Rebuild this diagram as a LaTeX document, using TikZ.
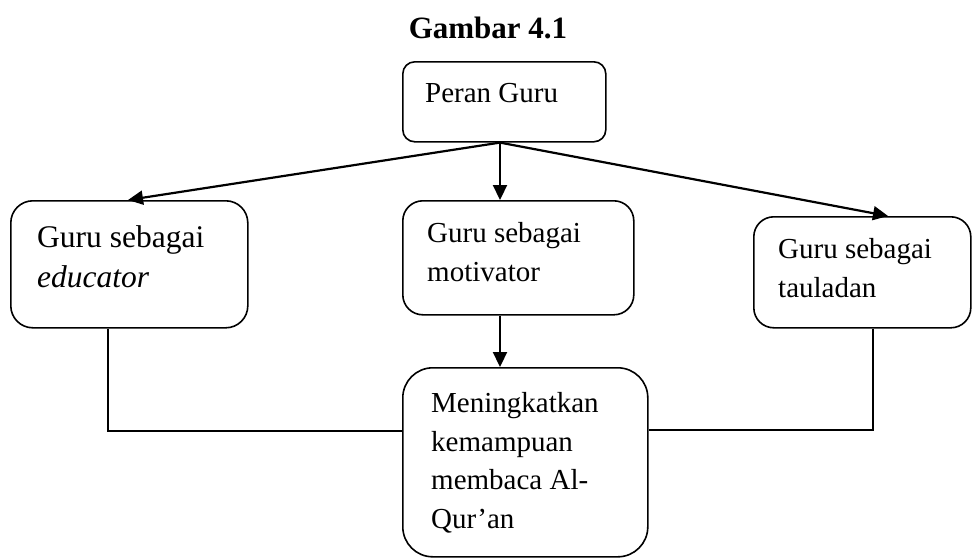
\documentclass[tikz,border=0pt]{standalone}
\usepackage{fontspec}
\setmainfont{Liberation Serif}
\usetikzlibrary{arrows.meta}
\tikzset{
  box/.style={draw, line width=1.6pt, rectangle, inner sep=0pt, anchor=north west},
  txt/.style={inner sep=0pt, anchor=base west, align=left, font=\fontsize{29}{38.5}\selectfont},
  bigtxt/.style={txt, font=\fontsize{31.5}{40}\selectfont},
  arr/.style={line width=2.2pt, -{Triangle[length=15pt,width=14pt]}},
  link/.style={line width=1.2pt}
}
\begin{document}
\begin{tikzpicture}[x=1pt,y=-1pt]
\useasboundingbox (0,0) rectangle (972,558);
\node[inner sep=0pt, anchor=base, font=\fontsize{31}{36}\selectfont\bfseries] (title) at (488,38) {Gambar 4.1};
\node[box, rounded corners=12pt, minimum width=203pt, minimum height=80pt] (peran) at (402,61) {};
\node[box, rounded corners=22pt, minimum width=237pt, minimum height=127pt] (edu) at (10,200) {};
\node[box, rounded corners=20pt, minimum width=231pt, minimum height=114pt] (mot) at (402,200) {};
\node[box, rounded corners=20pt, minimum width=217pt, minimum height=111pt] (tau) at (753,216) {};
\node[box, rounded corners=30pt, minimum width=245pt, minimum height=189pt] (men) at (402,367) {};
\node[txt] (tperan) at ([xshift=23pt,yshift=-41pt]peran.north west) {Peran Guru};
\node[bigtxt] (tedu) at ([xshift=27pt,yshift=-87pt]edu.north west) {Guru sebagai\\\textit{educator}};
\node[txt] (tmot) at ([xshift=25pt,yshift=-81pt]mot.north west) {Guru sebagai\\motivator};
\node[txt] (ttau) at ([xshift=25pt,yshift=-81pt]tau.north west) {Guru sebagai\\tauladan};
\node[txt] (tmen) at ([xshift=29pt,yshift=-161pt]men.north west) {Meningkatkan\\kemampuan\\membaca Al-\\Qur’an};
\coordinate (src) at ([xshift=98pt]peran.south west);
\draw[arr] (src) -- ([xshift=118pt]edu.north west);
\draw[arr] (src) -- (src |- mot.north);
\draw[arr] (src) -- ([xshift=135pt]tau.north west);
\draw[arr] ([xshift=98pt]mot.south west) -- ([xshift=98pt]men.north west);
\draw[link] ([xshift=98pt]edu.south west) |- ([yshift=-64pt]men.north west);
\draw[link] ([xshift=120pt]tau.south west) |- ([yshift=-63pt]men.north east);
\end{tikzpicture}
\end{document}
